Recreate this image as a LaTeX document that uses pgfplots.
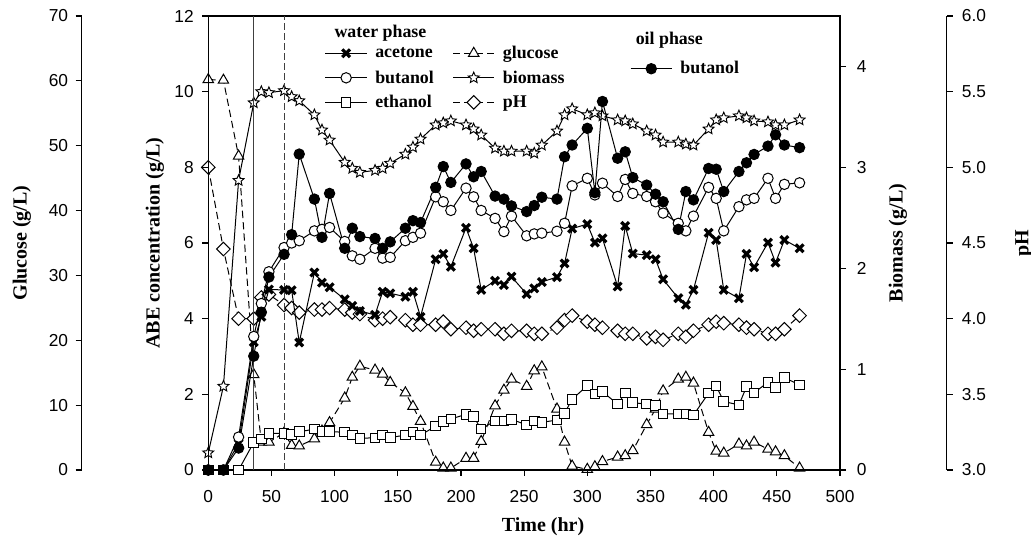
\documentclass[border=0pt]{standalone}
\usepackage{pgfplots}
\pgfplotsset{compat=1.18}
\usepackage{pgfplotstable}
\usepackage{fontspec}
\setmainfont{Liberation Serif}
\newfontfamily\arialfont{Liberation Sans}

\newcommand{\tickfont}{\arialfont\fontsize{13}{15}\selectfont}
\newcommand{\titlefont}{\bfseries\fontsize{15}{18}\selectfont}
\newcommand{\legfont}{\bfseries\fontsize{13.4}{16}\selectfont}

% hollow five-point star used for biomass
\pgfdeclareplotmark{wstar}{%
  \pgfpathmoveto{\pgfqpointpolar{90}{1.05\pgfplotmarksize}}%
  \pgfpathlineto{\pgfqpointpolar{126}{0.48\pgfplotmarksize}}%
  \pgfpathlineto{\pgfqpointpolar{162}{1.05\pgfplotmarksize}}%
  \pgfpathlineto{\pgfqpointpolar{198}{0.48\pgfplotmarksize}}%
  \pgfpathlineto{\pgfqpointpolar{234}{1.05\pgfplotmarksize}}%
  \pgfpathlineto{\pgfqpointpolar{270}{0.48\pgfplotmarksize}}%
  \pgfpathlineto{\pgfqpointpolar{306}{1.05\pgfplotmarksize}}%
  \pgfpathlineto{\pgfqpointpolar{342}{0.48\pgfplotmarksize}}%
  \pgfpathlineto{\pgfqpointpolar{18}{1.05\pgfplotmarksize}}%
  \pgfpathlineto{\pgfqpointpolar{54}{0.48\pgfplotmarksize}}%
  \pgfpathclose
  \pgfusepathqfillstroke}

% water phase (acetone, butanol, ethanol) and oil phase butanol, g/L
\pgfplotstableread{
t    ace   buw   eth   buo
0    0     0     0     0
12   0     0     0     0
24   0.70  0.87  0     0.58
36   3.38  3.53  0.73  3.01
42   4.05  4.40  0.82  4.17
48   4.77  5.24  0.97  5.10
60   4.76  5.88  0.97  5.70
66   4.75  6.00  0.94  6.22
72   3.37  6.06  1.01  8.35
84   5.22  6.32  1.08  7.16
90   4.95  6.36  1.01  6.15
96   4.83  6.41  1.01  7.31
108  4.51  6.04  1.00  5.86
114  4.34  5.66  0.92  6.39
120  4.20  5.57  0.84  6.17
132  4.10  5.86  0.85  6.12
138  4.71  5.60  0.92  5.86
144  4.67  5.62  0.86  6.03
156  4.58  6.06  0.92  6.39
162  4.71  6.15  1.00  6.59
168  4.05  6.26  0.92  6.54
180  5.57  7.22  1.16  7.47
186  5.71  7.09  1.28  8.02
192  5.37  6.86  1.35  7.60
204  6.40  7.45  1.47  8.09
210  5.86  7.22  1.41  7.75
216  4.76  6.86  1.08  7.89
227  5.00  6.65  1.30  7.24
234  4.89  6.30  1.30  7.16
240  5.11  6.71  1.34  6.98
252  4.65  6.19  1.19  6.83
258  4.80  6.24  1.30  6.99
264  4.97  6.26  1.26  7.21
276  5.10  6.31  1.32  7.16
282  5.46  6.52  1.50  8.28
288  6.38  7.51  1.87  8.59
300  6.50  7.71  2.23  9.03
306  6.01  7.27  2.01  7.33
312  6.12  7.58  2.07  9.74
324  4.85  7.23  1.74  8.24
330  6.45  7.68  2.03  8.41
336  5.72  7.31  1.78  7.73
347  5.68  7.23  1.74  7.53
354  5.57  7.09  1.70  7.29
360  5.04  6.79  1.48  7.09
372  4.54  6.52  1.48  6.36
378  4.37  6.32  1.48  7.36
384  4.76  6.71  1.45  7.14
396  6.27  7.47  2.03  7.97
402  6.08  7.18  2.22  7.95
408  4.76  6.32  1.81  7.36
420  4.54  6.96  1.72  7.89
426  5.71  7.14  2.20  8.12
432  5.36  7.18  2.04  8.34
443  6.01  7.71  2.32  8.56
449  5.48  7.18  2.18  8.86
456  6.08  7.55  2.44  8.59
468  5.86  7.59  2.25  8.52
}\abe

% glucose, g/L
\pgfplotstableread{
t    glu
0    60.2
12   60.1
24   48.4
36   14.7
42   4.3
48   4.3
60   5.7
66   3.8
72   3.7
84   4.8
90   6.0
96   7.3
108  11.1
114  14.3
120  16.0
132  15.4
138  14.8
144  13.5
156  11.9
162  9.8
168  7.5
180  1.2
186  0.3
192  0.3
204  1.8
210  1.8
216  4.4
227  9.9
234  12.3
240  14.0
252  12.9
258  15.3
264  15.9
276  9.4
282  4.3
288  0.6
300  0.1
306  0.5
312  1.3
324  2.0
330  2.2
336  3.0
347  7.0
354  9.4
360  12.2
372  14.0
378  14.3
384  13.4
396  5.8
402  2.9
408  2.6
420  4.0
426  3.7
432  4.3
443  3.2
449  2.8
456  2.2
468  0.3
}\glu

% biomass, g/L
\pgfplotstableread{
t    bio
0    0.17
12   0.83
24   2.87
36   3.64
42   3.75
48   3.74
60   3.76
66   3.70
72   3.66
84   3.52
90   3.37
96   3.27
108  3.05
114  2.99
120  2.95
132  2.97
138  2.99
144  3.04
156  3.13
162  3.20
168  3.28
180  3.42
186  3.44
192  3.46
204  3.42
210  3.38
216  3.32
227  3.19
234  3.16
240  3.16
252  3.16
258  3.14
264  3.22
276  3.36
282  3.52
288  3.58
300  3.52
306  3.54
312  3.51
324  3.47
330  3.46
336  3.43
347  3.36
354  3.32
360  3.25
372  3.25
378  3.23
384  3.22
396  3.38
402  3.47
408  3.49
420  3.51
426  3.49
432  3.46
443  3.45
449  3.42
456  3.42
468  3.47
}\bio

% pH
\pgfplotstableread{
t    ph
0    5.00
12   4.46
24   4.00
36   4.00
42   4.14
48   4.16
60   4.09
66   4.07
72   4.04
84   4.06
90   4.06
96   4.07
108  4.06
114  4.04
120  4.03
132  3.99
138  4.00
144  4.01
156  3.99
162  3.96
168  3.96
180  3.96
186  3.98
192  3.93
204  3.94
210  3.92
216  3.93
227  3.93
234  3.90
240  3.92
252  3.92
258  3.90
264  3.90
276  3.94
282  3.99
288  4.02
300  3.98
306  3.96
312  3.94
324  3.92
330  3.90
336  3.90
347  3.87
354  3.88
360  3.86
372  3.90
378  3.88
384  3.92
396  3.96
402  3.98
408  3.97
420  3.96
426  3.94
432  3.93
443  3.90
449  3.90
456  3.93
468  4.02
}\phtab

\pgfplotsset{
  panel/.style={scale only axis, width=473.8pt, height=340.5pt,
    at={(156.2pt,58.5pt)}, anchor=south west, xmin=0, xmax=500, clip=false},
  common/.style={tick align=outside, major tick length=4.5pt,
    tick style={black, line width=0.9pt},
    axis line style={black, line width=0.9pt},
    ticklabel style={font=\tickfont},
    /pgf/number format/assume math mode=true,
    label style={font=\titlefont}},
  % narrow frame carrying a free-standing y scale; its spine is plotted inside
  sidescale/.style={common, scale only axis, width=1pt, height=340.5pt,
    xmin=0, xmax=1, xtick=\empty, clip=false,
    axis line style={draw=none}},
  legend image code/.code={\draw[mark repeat=2, mark phase=2, #1]
    plot coordinates {(0pt,0pt) (15.5pt,0pt) (31pt,0pt)};},
  acestyle/.style={black, line width=0.75pt, mark=x, mark size=4.1pt,
    mark options={line width=2.4pt, solid}},
  buwstyle/.style={black, line width=0.75pt, mark=*, mark size=3.9pt,
    mark options={fill=white, line width=0.75pt, solid}},
  ethstyle/.style={black, line width=0.75pt, mark=square*, mark size=3.6pt,
    mark options={fill=white, line width=0.75pt, solid}},
  buostyle/.style={black, line width=0.75pt, mark=*, mark size=3.9pt,
    mark options={fill=black, solid}},
  glustyle/.style={black, line width=0.75pt, dash pattern=on 5.5pt off 3pt,
    mark=triangle*, mark size=4.5pt,
    mark options={fill=white, line width=0.75pt, solid}},
  biostyle/.style={black, line width=0.75pt, mark=wstar, mark size=4.1pt,
    mark options={fill=white, line width=0.7pt, solid}},
  phstyle/.style={black, line width=0.75pt, dash pattern=on 5.5pt off 3pt,
    mark=square*, mark size=3.6pt,
    mark options={rotate=45, fill=white, line width=0.75pt, solid}},
}

\begin{document}
\begin{tikzpicture}
\useasboundingbox (0,0) rectangle (773.25pt,411pt);

% glucose on its own 0-70 scale
\begin{axis}[panel, ymin=0, ymax=70, hide x axis, hide y axis]
  \addplot[glustyle] table[x=t, y=glu] {\glu};
\end{axis}

% pH on its own 3-6 scale
\begin{axis}[panel, ymin=3, ymax=6, hide x axis, hide y axis]
  \addplot[phstyle] table[x=t, y=ph] {\phtab};
\end{axis}

% biomass, right-hand axis
\begin{axis}[panel, common, ymin=0, ymax=4.5, xtick=\empty,
    ytick={0,1,2,3,4}, ytick pos=right,
    yticklabel style={anchor=west, inner sep=0pt, xshift=8pt},
    ylabel={Biomass (g/L)},
    ylabel style={at={(axis description cs:1.0918,0.5)}, anchor=center},
    legend style={draw=none, fill=none, font=\legfont,
      at={(axis description cs:0.661,0.912)}, anchor=north west,
      /tikz/every odd column/.append style={column sep=4pt}},
    legend cell align=left]
  \addplot[biostyle, forget plot] table[x=t, y=bio] {\bio};
  \addlegendimage{buostyle}
  \addlegendentry{butanol}
  \node[font=\legfont] at (axis description cs:0.7298,0.947) {oil phase};
\end{axis}

% ABE concentrations, main frame
\begin{axis}[panel, common, ymin=0, ymax=12,
    xtick={0,50,...,500}, ytick={0,2,...,12},
    xtick pos=left, ytick pos=left,
    xticklabel style={anchor=center, yshift=-15.5pt},
    yticklabel style={anchor=east, inner sep=0pt, xshift=-6.2pt},
    xlabel={Time (hr)},
    xlabel style={at={(axis description cs:0.53,-0.1256)}, anchor=center},
    ylabel={ABE concentration (g/L)},
    ylabel style={at={(axis description cs:-0.0844,0.5)}, anchor=center},
    legend columns=2,
    legend style={draw=none, fill=none, font=\legfont,
      at={(axis description cs:0.178,0.946)}, anchor=north west,
      row sep=3.6pt,
      /tikz/every odd column/.append style={column sep=4pt},
      /tikz/every even column/.append style={column sep=12pt}},
    legend cell align=left]
  \addplot[black!75, line width=0.75pt, forget plot] coordinates {(36,0) (36,12)};
  \addplot[black!75, line width=0.75pt, dash pattern=on 5pt off 2.5pt, forget plot]
    coordinates {(60,0) (60,12)};
  \addplot[ethstyle, forget plot] table[x=t, y=eth] {\abe};
  \addplot[acestyle, forget plot] table[x=t, y=ace] {\abe};
  \addplot[buwstyle, forget plot] table[x=t, y=buw] {\abe};
  \addplot[buostyle, forget plot] table[x=t, y=buo] {\abe};
  \addlegendimage{acestyle}
  \addlegendentry{acetone}
  \addlegendimage{glustyle}
  \addlegendentry{glucose}
  \addlegendimage{buwstyle}
  \addlegendentry{butanol}
  \addlegendimage{biostyle}
  \addlegendentry{biomass}
  \addlegendimage{ethstyle}
  \addlegendentry{ethanol}
  \addlegendimage{phstyle}
  \addlegendentry{pH}
  \node[font=\legfont] at (axis description cs:0.2726,0.9626) {water phase};
\end{axis}

% glucose scale, far left
\begin{axis}[sidescale, at={(61.3pt,58.5pt)}, anchor=south west,
    ymin=0, ymax=70, ytick={0,10,...,70}, ytick pos=left,
    yticklabel style={anchor=east, inner sep=0pt, xshift=-5.5pt},
    ylabel={Glucose (g/L)},
    ylabel style={at={([xshift=-44.8pt]axis description cs:0,0.5)}, anchor=center}]
  \addplot[black, line width=0.9pt, mark=none] coordinates {(0,0) (0,70)};
\end{axis}

% pH scale, far right
\begin{axis}[sidescale, at={(710pt,58.5pt)}, anchor=south east,
    ymin=3, ymax=6, ytick={3,3.5,4,4.5,5,5.5,6}, ytick pos=right,
    yticklabel style={anchor=west, inner sep=0pt, xshift=6.75pt,
      /pgf/number format/.cd, fixed, fixed zerofill, precision=1},
    ylabel={pH},
    ylabel style={at={([xshift=58pt]axis description cs:1,0.5)}, anchor=center}]
  \addplot[black, line width=0.9pt, mark=none] coordinates {(1,3) (1,6)};
\end{axis}
\end{tikzpicture}
\end{document}
